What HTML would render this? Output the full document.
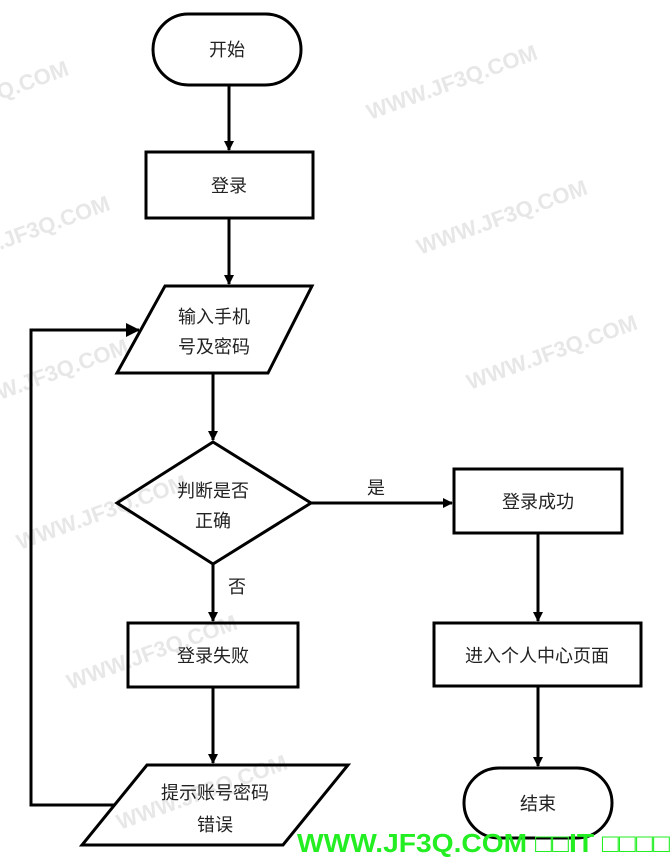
<!DOCTYPE html>
<html><head><meta charset="utf-8"><style>
html,body{margin:0;padding:0;background:#fff;}
svg{display:block;}
text{font-family:"Liberation Sans","Noto Sans CJK SC",sans-serif;}
</style></head><body>
<svg width="671" height="860" viewBox="0 0 671 860" xmlns="http://www.w3.org/2000/svg">
<defs><marker id="a" markerWidth="10" markerHeight="10" refX="9" refY="5" orient="auto" markerUnits="userSpaceOnUse"><path d="M0,0 L10,5 L0,10 z" fill="#000"/></marker>
<marker id="b" markerWidth="14" markerHeight="14" refX="13" refY="7" orient="auto" markerUnits="userSpaceOnUse"><path d="M0,0 L14,7 L0,14 z" fill="#000"/></marker></defs>
<g fill="#e2e2e2" font-size="22" font-weight="bold" opacity="0.8">
<text x="0" y="100" transform="rotate(-20 0 100)">Q.COM</text>
<text x="370" y="120" transform="rotate(-20 370 120)">WWW.JF3Q.COM</text>
<text x="0" y="250" transform="rotate(-20 0 250)">.JF3Q.COM</text>
<text x="420" y="255" transform="rotate(-20 420 255)">WWW.JF3Q.COM</text>
<text x="0" y="400" transform="rotate(-20 0 400)">W.JF3Q.COM</text>
<text x="470" y="390" transform="rotate(-20 470 390)">WWW.JF3Q.COM</text>
<text x="20" y="550" transform="rotate(-20 20 550)">WWW.JF3Q.COM</text>
<text x="70" y="690" transform="rotate(-20 70 690)">WWW.JF3Q.COM</text>
<text x="120" y="830" transform="rotate(-20 120 830)">WWW.JF3Q.COM</text>
</g>
<g fill="none" stroke="#000" stroke-width="3">
<rect x="153" y="14" width="148" height="71" rx="35.5"/>
<rect x="146" y="152" width="167" height="66"/>
<polygon points="165,286 312,286 268,373 117,373"/>
<polygon points="213,442 311,503 213,564 117,503"/>
<rect x="454" y="469" width="168" height="64"/>
<rect x="434" y="623" width="207" height="63"/>
<rect x="464" y="768" width="148" height="70" rx="35"/>
<rect x="128" y="623" width="170" height="64"/>
<polygon points="147,765 348,765 283,845 82,845"/>
<line x1="229" y1="85" x2="229" y2="150" marker-end="url(#a)"/>
<line x1="229" y1="218" x2="229" y2="284" marker-end="url(#a)"/>
<line x1="213" y1="373" x2="213" y2="440" marker-end="url(#a)"/>
<line x1="311" y1="503" x2="452" y2="503" marker-end="url(#a)"/>
<line x1="538" y1="533" x2="538" y2="621" marker-end="url(#a)"/>
<line x1="538" y1="686" x2="538" y2="766" marker-end="url(#a)"/>
<line x1="213" y1="564" x2="213" y2="621" marker-end="url(#a)"/>
<line x1="213" y1="687" x2="213" y2="763" marker-end="url(#a)"/>
<polyline points="114,805 31,805 31,330 139,330" marker-end="url(#b)"/>
</g>
<g font-size="18" fill="#222" text-anchor="middle">
<text x="227" y="56">开始</text>
<text x="229" y="192">登录</text>
<text x="214" y="323">输入手机</text>
<text x="214" y="353">号及密码</text>
<text x="213" y="497">判断是否</text>
<text x="213" y="527">正确</text>
<text x="376" y="494">是</text>
<text x="237" y="593">否</text>
<text x="538" y="508">登录成功</text>
<text x="537" y="662">进入个人中心页面</text>
<text x="538" y="810">结束</text>
<text x="213" y="662">登录失败</text>
<text x="215" y="799">提示账号密码</text>
<text x="215" y="831">错误</text>
</g>
<text x="297" y="852" font-size="26" font-weight="bold" fill="#22ee22" textLength="373" lengthAdjust="spacingAndGlyphs">WWW.JF3Q.COM □□IT  □□□□</text>
</svg>
</body></html>
